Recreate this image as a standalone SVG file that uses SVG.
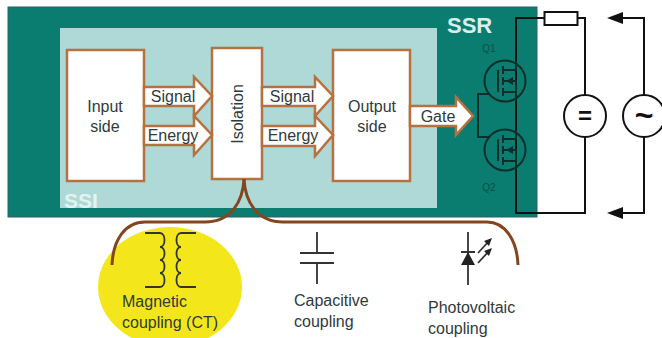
<svg xmlns="http://www.w3.org/2000/svg" width="662" height="338" viewBox="0 0 662 338">
<style>
text{font-family:"Liberation Sans",Arial,sans-serif;font-size:16px;fill:#2f3a3c}
.m{text-anchor:middle}
.box{fill:#fff;stroke:#b5713f;stroke-width:2.5}
.arr{fill:#fff;stroke:#b5713f;stroke-width:2.5;stroke-linejoin:miter}
.w{fill:none;stroke:#111;stroke-width:2}
.t{fill:none;stroke:#0c2f2c;stroke-width:2}
.d{fill:none;stroke:#333;stroke-width:1.8}
.br{fill:none;stroke:#84461f;stroke-width:3}
</style>
<defs>
<g id="fet">
<circle cx="0" cy="0" r="20.5" fill="none" stroke="#0c2f2c" stroke-width="2"/>
<path class="t" d="M-7-11V11M-2-15V-7M-2-4V4M-2 7V15M-2-11H11V-20M-2 11H11V20M-2 0H11V11"/>
<path d="M1 0L8-4V4Z" fill="#0c2f2c"/>
</g>
</defs>
<rect width="662" height="338" fill="#fff"/>
<g id="ssr"><rect x="8" y="7" width="529" height="210" fill="#0b7d70" stroke="#2f5f66" stroke-width="1"/><text x="447" y="33" style="font-size:22px;font-weight:bold;fill:#d8efec">SSR</text></g>
<g id="ssi"><rect x="60" y="28" width="377" height="180" fill="#aed9d6"/><text x="64" y="208" style="font-size:21px;font-weight:bold;fill:#e3f3f1">SSI</text></g>
<g id="magnetic-highlight"><ellipse cx="170" cy="287" rx="72" ry="60" fill="#f3e71c"/></g>
<g id="input-side"><rect class="box" x="67" y="50" width="77" height="131"/><text class="m" x="105" y="112">Input</text><text class="m" x="105" y="132">side</text></g>
<g id="isolation"><rect class="box" x="212" y="48" width="50" height="131"/><text class="m" transform="translate(243 114) rotate(-90)">Isolation</text></g>
<g id="output-side"><rect class="box" x="333" y="50" width="77" height="131"/><text class="m" x="372" y="112">Output</text><text class="m" x="372" y="132">side</text></g>
<g id="connectors">
<path class="arr" d="M144 87H194V77L212 96L194 116V106H144Z"/>
<path class="arr" d="M144 126H194V116L212 135L194 155V145H144Z"/>
<path class="arr" d="M262 87H315V77L333 96L315 116V106H262Z"/>
<path class="arr" d="M262 126H315V116L333 135L315 156V146H262Z"/>
<path class="arr" d="M410 106H456V97L473 116L456 135V126H410Z"/>
<path class="br" d="M244 179C243 200 232 222 205 222H145C125 222 113 240 112 265"/>
<path class="br" d="M244 179C245 200 256 222 283 222H487C505 222 517 240 518 265"/>
<path class="w" d="M544 18H516V213H585V137M585 95V18H577"/>
<path class="w" d="M623 18H644V95M644 137V213H623"/>
<path class="t" d="M489 94H478V137H489"/>
<path d="M607 18L623 12V24Z M607 213L623 207V219Z" fill="#111"/>
</g>
<g id="signal-labels">
<text class="m" x="173" y="102">Signal</text><text class="m" x="173" y="141">Energy</text>
<text class="m" x="292" y="102">Signal</text><text class="m" x="293" y="141">Energy</text>
<text class="m" x="438" y="122">Gate</text>
</g>
<g id="q1"><use href="#fet" x="505" y="81"/><text class="m" x="489" y="52" style="font-size:10px;fill:#0c4f49">Q1</text></g>
<g id="q2"><use href="#fet" x="505" y="150"/><text class="m" x="489" y="191" style="font-size:10px;fill:#0c4f49">Q2</text></g>
<g id="resistor"><rect x="544.500" y="12" width="33" height="13" fill="#fff" stroke="#111" stroke-width="2"/></g>
<g id="dc-source"><circle cx="585" cy="116" r="21" fill="#fff" stroke="#111" stroke-width="2"/><text class="m" x="585" y="124" style="font-size:24px;font-weight:bold;fill:#111">=</text></g>
<g id="ac-source"><circle cx="644" cy="116" r="21" fill="#fff" stroke="#111" stroke-width="2"/><text class="m" x="644" y="126" style="font-size:32px;font-weight:bold;fill:#111">~</text></g>
<g id="magnetic"><path class="d" d="M145 233H160C166 233 166 247 160 247C166 247 166 260 160 260C166 260 166 273 160 273C166 273 166 287 160 287H145"/><path class="d" d="M196 233H181C175 233 175 247 181 247C175 247 175 260 181 260C175 260 175 273 181 273C175 273 175 287 181 287H196"/><text x="122" y="307">Magnetic</text><text x="122" y="328">coupling (CT)</text></g>
<g id="capacitive"><path class="d" d="M317 232V253M300 253H334M300 263H334M317 263V284"/><text x="294" y="306">Capacitive</text><text x="294" y="327">coupling</text></g>
<g id="photovoltaic"><path class="d" d="M468 232V285M461 252H475M478 253L489 241M478 263L489 251"/><path d="M468 252L475 265H461Z M492 238L484 241L489 246Z M492 248L484 251L489 256Z" fill="#222"/><text x="428" y="313">Photovoltaic</text><text x="428" y="334">coupling</text></g>
</svg>
